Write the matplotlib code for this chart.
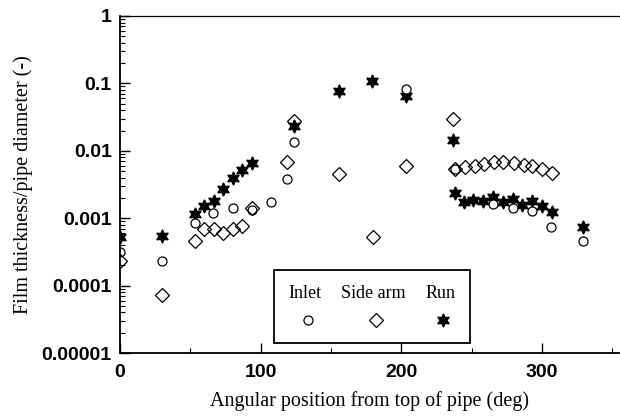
import matplotlib
matplotlib.use('Agg')
import matplotlib.pyplot as plt
from matplotlib.lines import Line2D
from matplotlib.ticker import FixedLocator, LogLocator, MultipleLocator, NullFormatter
from matplotlib.offsetbox import TextArea, DrawingArea, VPacker, HPacker, AnchoredOffsetbox

# Inlet (circles)
inlet_deg = [0, 30, 53, 66, 80, 94, 107, 119, 124, 203, 238, 265, 279, 293, 306, 329]
inlet_val = [0.00031, 0.00023, 0.00086, 0.00119, 0.00144, 0.00133, 0.00175, 0.0038, 0.0135,
             0.082, 0.0053, 0.0016, 0.00143, 0.00127, 0.00075, 0.00046]

# Side arm (diamonds)
side_deg = [0, 30, 53, 60, 67, 73, 80, 87, 94, 119, 124, 156, 180, 203, 237,
            238, 245, 252, 259, 266, 272, 280, 287, 293, 300, 307]
side_val = [0.00023, 0.000073, 0.00046, 0.00069, 0.00069, 0.0006, 0.00069, 0.00077, 0.00144,
            0.0069, 0.028, 0.0046, 0.00052, 0.006, 0.030,
            0.0054, 0.0057, 0.0060, 0.0064, 0.0068, 0.0069, 0.0066, 0.0062, 0.0059, 0.0054, 0.0047]

# Run (stars)
run_deg = [0, 30, 53, 60, 67, 73, 80, 87, 94, 124, 156, 179, 203, 237,
           238, 244.5, 251, 258, 265, 272, 279, 285.5, 292.6, 299.7, 306.8, 329]
run_val = [0.00053, 0.00054, 0.00115, 0.0015, 0.00178, 0.0027, 0.0040, 0.0052, 0.0065,
           0.0235, 0.078, 0.11, 0.066, 0.0145,
           0.00236, 0.00171, 0.00188, 0.00177, 0.00204, 0.00171, 0.00192, 0.00158, 0.00177,
           0.0015, 0.00124, 0.00075]

y_ticks = [0.00001, 0.0001, 0.001, 0.01, 0.1, 1]
y_tick_labels = ['0.00001', '0.0001', '0.001', '0.01', '0.1', '1']
x_ticks = [0, 100, 200, 300]

serif = ['Liberation Serif', 'DejaVu Serif']
sans = ['Liberation Sans', 'DejaVu Sans']
star = (6, 1, 0)
circle_style = dict(marker='o', ms=6.5, mfc='white', mec='black', mew=0.9)
diamond_style = dict(marker='D', ms=7, mfc='none', mec='black', mew=0.9)
star_style = dict(marker=star, ms=9.5, color='black')

fig = plt.figure(figsize=(6.2, 4.2), dpi=100)
ax = fig.add_axes([120 / 620, 1 - 353 / 420, 1 - 120 / 620, 337 / 420])

ax.plot(run_deg, run_val, ls='none', **star_style)
ax.plot(inlet_deg, inlet_val, ls='none', **circle_style)
ax.plot(side_deg, side_val, ls='none', **diamond_style)

ax.set_yscale('log')
ax.set_ylim(0.00001, 1)
ax.set_xlim(0, 355.4)
ax.yaxis.set_major_locator(FixedLocator(y_ticks))
ax.set_yticklabels(y_tick_labels)
ax.yaxis.set_minor_locator(LogLocator(base=10, subs=range(2, 10)))
ax.yaxis.set_minor_formatter(NullFormatter())
ax.xaxis.set_major_locator(FixedLocator(x_ticks))
ax.xaxis.set_minor_locator(MultipleLocator(50))

ax.tick_params(which='both', direction='in', top=False, right=False)
ax.tick_params(which='major', length=7, width=1)
ax.tick_params(which='minor', length=3.5, width=0.8)
for lab in ax.get_xticklabels() + ax.get_yticklabels():
    lab.set_family(sans)
    lab.set_fontsize(14)
    lab.set_fontweight('bold')
ax.tick_params(axis='x', pad=8)
ax.tick_params(axis='y', pad=6)

ax.spines['right'].set_visible(False)
ax.spines['left'].set_linewidth(1.3)
ax.spines['bottom'].set_linewidth(1.3)
ax.spines['top'].set_linewidth(0.9)

ax.set_xlabel('Angular position from top of pipe (deg)', family=serif, fontsize=14.5)
ax.set_ylabel('Film thickness/pipe diameter (-)', family=serif, fontsize=14.5)
ax.xaxis.set_label_coords(0.5, -0.113)
ax.yaxis.set_label_coords(-0.174, 0.5)

# legend with labels above markers
entries = [('Inlet', circle_style), ('Side arm', diamond_style), ('Run', star_style)]
cols = []
for label, style in entries:
    txt = TextArea(label, textprops=dict(family=serif, fontsize=13))
    da = DrawingArea(20, 12)
    da.add_artist(Line2D([12], [6], ls='none', **style))
    cols.append(VPacker(children=[txt, da], align='center', pad=0, sep=7))
row = HPacker(children=cols, align='top', pad=0, sep=14)
box = AnchoredOffsetbox(loc='lower left', child=row, pad=1.05, borderpad=0, frameon=True,
                        bbox_to_anchor=(0.308, 0.03), bbox_transform=ax.transAxes)
box.patch.set_edgecolor('black')
box.patch.set_linewidth(1.3)
box.patch.set_boxstyle('square', pad=0)
ax.add_artist(box)

fig.savefig('out.png', dpi=100)
